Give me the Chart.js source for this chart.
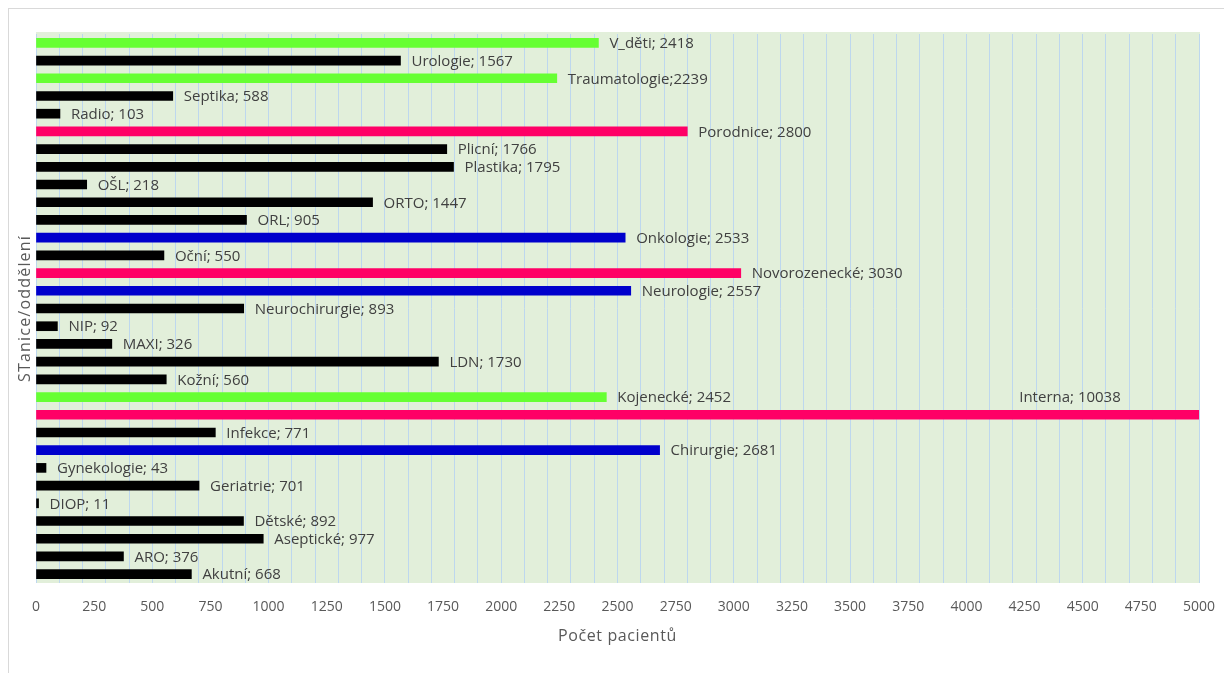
<!DOCTYPE html>
<html><head><meta charset="utf-8">
<script src="https://cdn.jsdelivr.net/npm/chart.js@4.4.0/dist/chart.umd.min.js"></script>
<style>html,body{margin:0;padding:0;background:#fff;}#wrap{width:1224px;height:673px;position:relative;}</style>
</head><body><div id="wrap"><canvas id="c" width="1224" height="673"></canvas></div>
<script>
const categories = ["V_děti","Urologie","Traumatologie","Septika","Radio","Porodnice","Plicní","Plastika","OŠL","ORTO","ORL","Onkologie","Oční","Novorozenecké","Neurologie","Neurochirurgie","NIP","MAXI","LDN","Kožní","Kojenecké","Interna","Infekce","Chirurgie","Gynekologie","Geriatrie","DIOP","Dětské","Aseptické","ARO","Akutní"];
const patients = [2418,1567,2239,588,103,2800,1766,1795,218,1447,905,2533,550,3030,2557,893,92,326,1730,560,2452,10038,771,2681,43,701,11,892,977,376,668];
const separators = ["; ","; ",";","; ","; ","; ","; ","; ","; ","; ","; ","; ","; ","; ","; ","; ","; ","; ","; ","; ","; ","; ","; ","; ","; ","; ","; ","; ","; ","; ","; "];
const G="#66FF33",K="#000000",R="#FF0066",B="#0000CC";
const barColors = [G,K,G,K,K,R,K,K,K,K,K,B,K,R,B,K,K,K,K,K,G,R,K,B,K,K,K,K,K,K,K];
const xTickLabels = [0,250,500,750,1000,1250,1500,1750,2000,2250,2500,2750,3000,3250,3500,3750,4000,4250,4500,4750,5000];
const gridStep = 100;
const xMax = 5000;
const xTitle = "Počet pacientů";
const yTitle = "STanice/oddělení";
const FONT = "'Open Sans', sans-serif";

const framePlugin = {
  id:'frame',
  beforeDraw(chart){
    const {ctx, chartArea:a} = chart;
    ctx.save();
    ctx.fillStyle='#fff'; ctx.fillRect(0,0,chart.width,chart.height);
    ctx.strokeStyle='#D9D9D9'; ctx.lineWidth=1;
    ctx.strokeRect(8.5,8.5,1224,700);
    ctx.fillStyle='#E2EFDA';
    ctx.fillRect(a.left,a.top-2,a.right-a.left+1,a.bottom-a.top+2);
    ctx.restore();
  },
  afterDraw(chart){
    const {ctx, chartArea:a} = chart;
    ctx.save();
    ctx.fillStyle='#595959';
    ctx.font="16px "+FONT;
    ctx.letterSpacing='0.6px';
    ctx.textAlign='center'; ctx.textBaseline='middle';
    ctx.fillText(xTitle,(a.left+a.right)/2,636);
    ctx.translate(25,(a.top+a.bottom)/2);
    ctx.rotate(-Math.PI/2);
    ctx.letterSpacing='1.2px';
    ctx.fillText(yTitle,0,0);
    ctx.restore();
  }
};
const labelPlugin = {
  id:'barLabels',
  afterDatasetsDraw(chart){
    const {ctx, chartArea:a} = chart;
    const meta = chart.getDatasetMeta(0);
    ctx.save();
    ctx.font="15px "+FONT;
    ctx.fillStyle='#404040';
    ctx.textBaseline='middle';
    meta.data.forEach((bar,i)=>{
      const txt = categories[i]+separators[i]+patients[i];
      if (patients[i] > xMax) {
        ctx.textAlign='center';
        ctx.fillText(txt, a.right-129, bar.y-17);
      } else {
        ctx.textAlign='left';
        ctx.fillText(txt, bar.x+11, bar.y+1);
      }
    });
    ctx.restore();
  }
};

new Chart(document.getElementById('c'), {
  type:'bar',
  data:{ labels:categories, datasets:[{ data:patients, backgroundColor:barColors, barThickness:9, borderWidth:0 }]},
  options:{
    indexAxis:'y', responsive:false, animation:false,
    layout:{ padding:{ left:0, top:34, right:25, bottom:0 } },
    plugins:{ legend:{display:false}, tooltip:{enabled:false} },
    scales:{
      x:{ min:0, max:xMax,
        afterBuildTicks(s){
          const vals = new Set(xTickLabels);
          for (let v=0; v<=xMax; v+=gridStep) vals.add(v);
          s.ticks = [...vals].sort((p,q)=>p-q).map(v=>({value:v}));
        },
        grid:{ color:(c)=> (c.tick && c.tick.value % gridStep === 0) ? '#BDD7EE' : 'rgba(0,0,0,0)', drawTicks:false, lineWidth:1 },
        border:{ display:false },
        ticks:{ color:'#595959', font:{family:FONT, size:14}, padding:16, maxRotation:0, autoSkip:false,
          callback:(v)=> xTickLabels.includes(v) ? String(v) : '' },
        afterFit(s){ s.height = 90; s.paddingRight = 0; s.paddingLeft = 0; }
      },
      y:{ grid:{display:false, drawTicks:false}, border:{display:false}, ticks:{display:false},
        afterFit(s){ s.width = 36; } }
    }
  },
  plugins:[framePlugin,labelPlugin]
});
</script></body></html>
